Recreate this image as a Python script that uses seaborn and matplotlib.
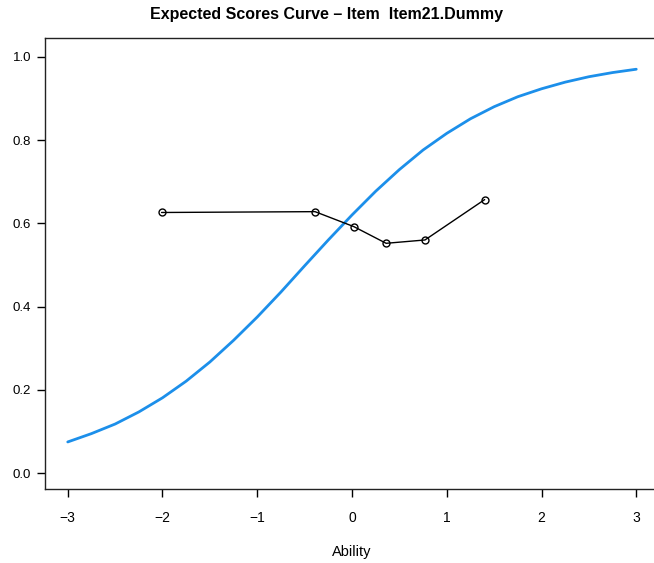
import matplotlib
matplotlib.use("Agg")
import matplotlib.pyplot as plt
import seaborn as sns
import pandas as pd

# Expected score curve
ability = [-3.0, -2.75, -2.5, -2.25, -2.0, -1.75, -1.5, -1.25, -1.0, -0.75, -0.5, -0.25,
           0.0, 0.25, 0.5, 0.75, 1.0, 1.25, 1.5, 1.75, 2.0, 2.25, 2.5, 2.75, 3.0]
expected = [0.075, 0.095, 0.118, 0.147, 0.181, 0.221, 0.267, 0.319, 0.375, 0.435, 0.498, 0.560,
            0.620, 0.677, 0.729, 0.776, 0.816, 0.851, 0.880, 0.904, 0.923, 0.939, 0.952, 0.962, 0.970]

# Observed (empirical) points
obs_ability = [-2.01, -0.39, 0.02, 0.36, 0.77, 1.40]
obs_score = [0.626, 0.628, 0.592, 0.552, 0.560, 0.657]

curve = pd.DataFrame({"Ability": ability, "Score": expected})
obs = pd.DataFrame({"Ability": obs_ability, "Score": obs_score})

sns.set_style("ticks")
plt.rcParams["font.family"] = ["Liberation Sans", "DejaVu Sans"]
plt.rcParams["text.color"] = "black"
plt.rcParams["axes.labelcolor"] = "black"

fig = plt.figure(figsize=(6.54, 5.63), dpi=100)
ax = fig.add_axes([45 / 654, 74 / 563, 614 / 654, 451 / 563])

sns.lineplot(data=curve, x="Ability", y="Score", color="#1C8FEA", linewidth=2.0, ax=ax)
sns.lineplot(data=obs, x="Ability", y="Score", color="black", linewidth=1.0,
             marker="o", markersize=5, markerfacecolor="none",
             markeredgecolor="black", markeredgewidth=1.0, ax=ax)

ax.set_xlim(-3.24, 3.24)
ax.set_ylim(-0.038, 1.045)
ax.set_xticks([-3, -2, -1, 0, 1, 2, 3])
ax.set_xticklabels(["\u22123", "\u22122", "\u22121", "0", "1", "2", "3"])
ax.set_yticks([0.0, 0.2, 0.4, 0.6, 0.8, 1.0])
ax.set_yticklabels(["0.0", "0.2", "0.4", "0.6", "0.8", "1.0"])
ax.tick_params(direction="out", length=6, width=1, colors="black")
ax.tick_params(axis="x", labelsize=10, pad=10)
ax.tick_params(axis="y", labelsize=9.5, pad=4)
for s in ax.spines.values():
    s.set_linewidth(1)
    s.set_color("#222222")
ax.set_xlabel("Ability", fontsize=10.5, labelpad=14)
ax.set_ylabel("")
fig.text(0.5, 1 - 14 / 563, "Expected Scores Curve \u2013 Item  Item21.Dummy",
         ha="center", va="center", fontsize=11.5, fontweight="bold", color="black")

fig.savefig("out.png", dpi=100)
